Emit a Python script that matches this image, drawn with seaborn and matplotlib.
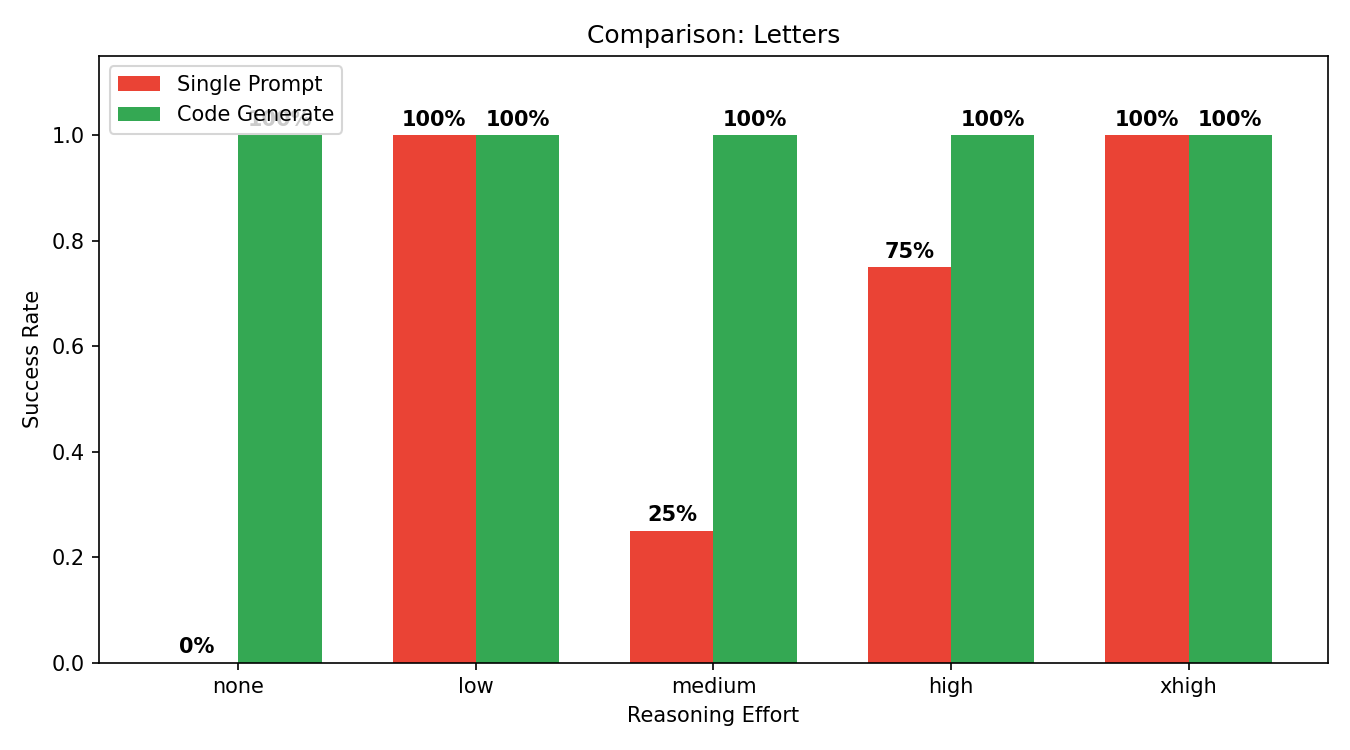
import pandas as pd
import seaborn as sns
import matplotlib.pyplot as plt

efforts = ["none", "low", "medium", "high", "xhigh"]
single_prompt = [0.0, 1.0, 0.25, 0.75, 1.0]
code_generate = [1.0, 1.0, 1.0, 1.0, 1.0]
methods = ["Single Prompt", "Code Generate"]
colors = ["#EA4335", "#34A853"]

rows = []
for i, e in enumerate(efforts):
    rows.append({"effort": e, "method": methods[0], "rate": single_prompt[i]})
    rows.append({"effort": e, "method": methods[1], "rate": code_generate[i]})
df = pd.DataFrame(rows)

fig, ax = plt.subplots(figsize=(9, 5))
sns.barplot(data=df, x="effort", y="rate", hue="method", order=efforts,
            hue_order=methods, palette=colors, width=0.7, gap=0,
            saturation=1, errorbar=None, ax=ax)

# percentage labels on top of each bar
for i in range(len(efforts)):
    for j, vals in enumerate([single_prompt, code_generate]):
        xpos = i - 0.175 + j * 0.35
        ax.text(xpos, vals[i] + 0.01, f"{vals[i]*100:.0f}%", ha="center",
                va="bottom", fontweight="bold")

ax.set_xlim(-0.585, 4.585)
ax.set_ylim(0, 1.15)
ax.set_xlabel("Reasoning Effort")
ax.set_ylabel("Success Rate")
ax.set_title("Comparison: Letters")
ax.legend(loc="upper left", title=None)

plt.tight_layout()
plt.savefig("out.png", dpi=150)
